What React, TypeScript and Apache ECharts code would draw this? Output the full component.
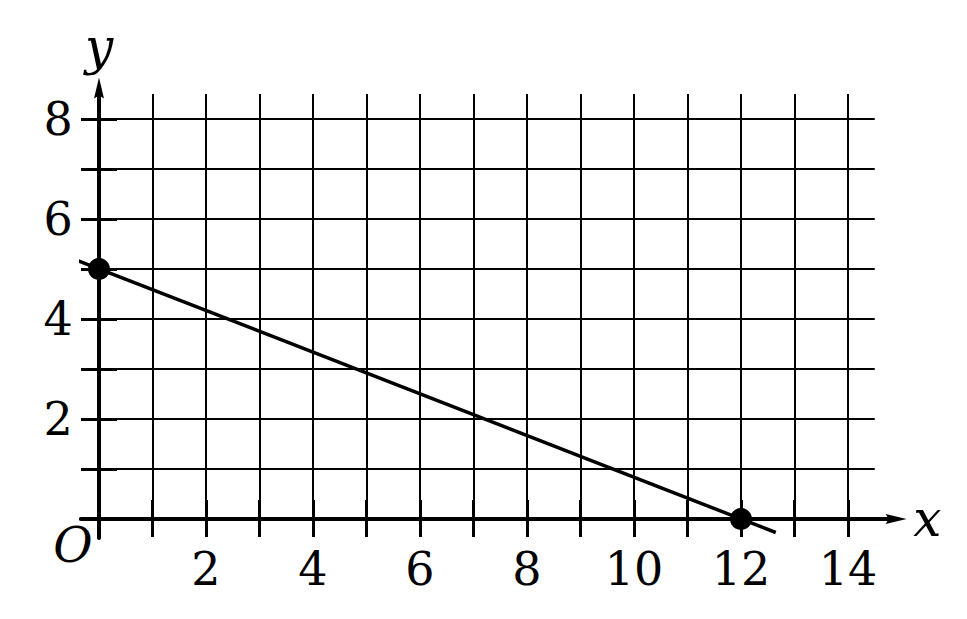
import React, { useEffect, useRef } from 'react';
import * as echarts from 'echarts';

// the straight line and its two marked points
const linePoints = [[-0.47, 5.2], [12.65, -0.27]];
const markedPoints = [[0, 5], [12, 0]];

const xTicks = [1, 2, 3, 4, 5, 6, 7, 8, 9, 10, 11, 12, 13, 14];
const yTicks = [1, 2, 3, 4, 5, 6, 7, 8];
const xLabels = [2, 4, 6, 8, 10, 12, 14];
const yLabels = [2, 4, 6, 8];

// layout (pixels)
const ORIGIN_X = 99;
const ORIGIN_Y = 519;
const UNIT_X = 53.5;
const UNIT_Y = 50;

// squared paper extent
const GRID_X_MAX = 14.5;
const GRID_Y_MAX = 8.5;
// axis line extent (past the paper, up to the arrow centres)
const AX_X_MIN = -0.34;
const AX_X_MAX = 14.9;
const AX_Y_MIN = -0.38;
const AX_Y_MAX = 8.62;

const FONT = '"DejaVu Serif", serif';
const ARROW = 'path://M5,0 L10,21 L5,18 L0,21 Z';

const App: React.FC = () => {
  const chartRef = useRef<HTMLDivElement>(null);

  useEffect(() => {
    document.body.style.margin = '0';
    if (!chartRef.current) return;
    const chart = echarts.init(chartRef.current, null, { renderer: 'svg' });

    const tickStyle = { color: '#000', width: 3 };
    const labelStyle = { color: '#000', fontFamily: FONT, fontSize: 46 };
    const nameStyle = { color: '#000', fontFamily: FONT, fontSize: 50, fontStyle: 'italic' };

    const option = {
      animation: false,
      backgroundColor: '#fff',
      grid: [
        {
          left: ORIGIN_X + AX_X_MIN * UNIT_X,
          top: ORIGIN_Y - AX_Y_MAX * UNIT_Y,
          width: (AX_X_MAX - AX_X_MIN) * UNIT_X,
          height: (AX_Y_MAX - AX_Y_MIN) * UNIT_Y
        },
        {
          left: ORIGIN_X,
          top: ORIGIN_Y - GRID_Y_MAX * UNIT_Y,
          width: GRID_X_MAX * UNIT_X,
          height: GRID_Y_MAX * UNIT_Y
        }
      ],
      xAxis: [
        {
          type: 'value',
          gridIndex: 0,
          position: 'bottom',
          min: AX_X_MIN,
          max: AX_X_MAX,
          name: 'x',
          nameLocation: 'end',
          nameGap: 17,
          nameTextStyle: { ...nameStyle, padding: [0, 0, 8, 0] },
          axisLine: {
            show: true,
            onZero: true,
            symbol: ['none', ARROW],
            symbolSize: [11, 21],
            lineStyle: { color: '#000', width: 4 }
          },
          axisTick: { show: true, inside: false, length: 18, customValues: xTicks, lineStyle: tickStyle },
          axisLabel: { show: true, margin: 8, customValues: xLabels, ...labelStyle },
          splitLine: { show: false }
        },
        {
          type: 'value',
          gridIndex: 0,
          position: 'bottom',
          min: AX_X_MIN,
          max: AX_X_MAX,
          axisLine: { show: false, onZero: true },
          axisTick: { show: true, inside: true, length: 19, customValues: xTicks, lineStyle: tickStyle },
          axisLabel: { show: false },
          splitLine: { show: false }
        },
        {
          type: 'value',
          gridIndex: 1,
          min: 0,
          max: GRID_X_MAX,
          interval: 1,
          axisLine: { show: false },
          axisTick: { show: false },
          axisLabel: { show: false },
          splitLine: {
            show: true,
            showMinLine: false,
            showMaxLine: false,
            lineStyle: { color: '#000', width: 2 }
          }
        }
      ],
      yAxis: [
        {
          type: 'value',
          gridIndex: 0,
          position: 'left',
          min: AX_Y_MIN,
          max: AX_Y_MAX,
          name: 'y',
          nameLocation: 'end',
          nameGap: 16,
          nameTextStyle: nameStyle,
          axisLine: {
            show: true,
            onZero: true,
            symbol: ['none', ARROW],
            symbolSize: [11, 21],
            lineStyle: { color: '#000', width: 4 }
          },
          axisTick: { show: true, inside: false, length: 18, customValues: yTicks, lineStyle: tickStyle },
          axisLabel: { show: true, margin: 8, customValues: yLabels, ...labelStyle },
          splitLine: { show: false }
        },
        {
          type: 'value',
          gridIndex: 0,
          position: 'left',
          min: AX_Y_MIN,
          max: AX_Y_MAX,
          axisLine: { show: false, onZero: true },
          axisTick: { show: true, inside: true, length: 18, customValues: yTicks, lineStyle: tickStyle },
          axisLabel: { show: false },
          splitLine: { show: false }
        },
        {
          type: 'value',
          gridIndex: 1,
          min: 0,
          max: GRID_Y_MAX,
          interval: 1,
          axisLine: { show: false },
          axisTick: { show: false },
          axisLabel: { show: false },
          splitLine: {
            show: true,
            showMinLine: false,
            showMaxLine: false,
            lineStyle: { color: '#000', width: 2 }
          }
        }
      ],
      graphic: [
        {
          type: 'text',
          x: 73,
          y: 545,
          style: {
            text: 'O',
            font: `italic 48px ${FONT}`,
            fill: '#000',
            textAlign: 'center',
            textVerticalAlign: 'middle'
          }
        }
      ],
      series: [
        {
          type: 'line',
          xAxisIndex: 0,
          yAxisIndex: 0,
          data: linePoints,
          clip: false,
          showSymbol: false,
          symbol: 'none',
          lineStyle: { color: '#000', width: 3.5 },
          z: 3
        },
        {
          type: 'scatter',
          xAxisIndex: 0,
          yAxisIndex: 0,
          data: markedPoints,
          symbol: 'circle',
          symbolSize: 22,
          itemStyle: { color: '#000', opacity: 1 },
          z: 4
        }
      ]
    };

    chart.setOption(option);

    return () => {
      chart.dispose();
    };
  }, []);

  return <div ref={chartRef} style={{ width: '967px', height: '619px' }} />;
};

export default App;
